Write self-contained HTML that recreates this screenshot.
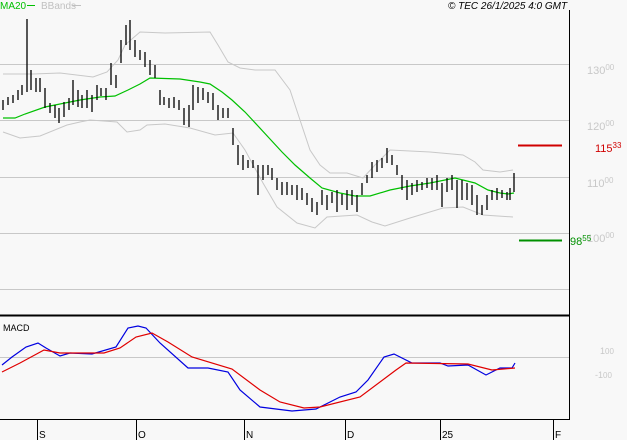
<!DOCTYPE html>
<html><head><meta charset="utf-8"><style>
html,body{margin:0;padding:0;background:#f8f8f8;}
svg{display:block;font-family:"Liberation Sans",sans-serif;}
</style></head><body>
<svg width="627" height="440" viewBox="0 0 627 440" xmlns="http://www.w3.org/2000/svg">
<rect x="0" y="0" width="627" height="440" fill="#f8f8f8"/>
<!-- gridlines -->
<g stroke="#c8c8c8" stroke-width="1">
<line x1="0" y1="64.5" x2="569" y2="64.5"/>
<line x1="0" y1="120.5" x2="569" y2="120.5"/>
<line x1="0" y1="177.5" x2="569" y2="177.5"/>
<line x1="0" y1="233.5" x2="569" y2="233.5"/>
<line x1="0" y1="289.5" x2="569" y2="289.5"/>
<line x1="0" y1="357.5" x2="569" y2="357.5"/>
</g>
<!-- borders -->
<line x1="569.5" y1="10" x2="569.5" y2="420" stroke="#000" stroke-width="1"/>
<line x1="0" y1="315.5" x2="570" y2="315.5" stroke="#000" stroke-width="2"/>
<line x1="0" y1="419.5" x2="570" y2="419.5" stroke="#000" stroke-width="1"/>
<!-- bollinger bands -->
<g fill="none" stroke="#c8c8c8" stroke-width="1">
<polyline points="3,74 33,74 60,73 93,77 107,72 118,60 125,45 140,32 165,33 210,32 218,45 228,62 240,68 255,70 275,70 290,90 300,120 310,150 320,165 330,173 347,173 363,178 375,165 390,150 430,152 463,155 475,162 483,170 500,172 513,170"/>
<polyline points="3,132 20,138 40,136 67,125 80,122 90,120 117,122 127,132 140,130 147,125 165,124 190,128 215,135 233,133 245,150 263,183 277,207 297,223 315,228 327,217 357,215 372,222 385,226 410,218 443,208 463,207 483,215 513,217"/>
</g>
<!-- MA20 -->
<polyline fill="none" stroke="#00c000" stroke-width="1.2" points="3,118 15,118 25,114 45,107 60,104 80,100 100,97 115,96 128,90 140,84 150,78 180,79 200,82 210,84 222,92 232,100 245,112 258,126 270,139 282,152 295,165 310,178 322,188 340,193 355,196 370,196 390,190 410,186 430,183 455,178 475,183 488,190 500,193 508,194 514,193"/>
<!-- price bars -->
<path fill="none" stroke="#000" stroke-width="1.3" d="
M3 100V110 M8 97V105 M13 95V103 M18 90V100 M22 85V95 M27 19V92 M31 70V90 M36 78V92 M40 78V92 M45 88V108
M50 103V113 M55 105V118 M59 108V123 M64 102V117 M69 98V110 M73 80V105 M78 90V107 M82 95V108 M87 90V108 M92 95V112
M97 85V100 M101 88V96 M106 88V100 M111 63V85 M116 75V88 M121 40V63 M126 25V45 M130 20V50 M135 40V57 M140 50V60
M145 52V67 M150 60V75 M155 65V78 M160 90V105 M164 97V105 M169 98V108 M174 97V108 M179 100V110 M184 108V125 M189 105V127
M193 85V110 M198 87V103 M203 88V100 M208 92V103 M213 93V110 M218 105V120 M223 108V118 M228 108V118 M233 128V145 M238 145V165
M243 155V170 M248 160V168 M253 160V168 M258 165V195 M263 165V180 M268 165V175 M272 168V180 M277 178V190 M282 182V195 M287 182V195
M292 185V195 M297 185V200 M302 188V200 M307 193V205 M312 198V212 M317 202V215 M322 190V205 M327 195V210 M332 192V203 M337 190V212
M342 194V205 M347 190V210 M352 190V205 M357 195V212 M362 183V195 M367 175V183 M372 162V178 M377 160V172 M382 158V168 M387 148V163
M392 155V165 M397 165V175 M402 175V190 M407 180V200 M412 183V195 M417 180V192 M422 182V190 M427 178V188 M432 178V190 M437 175V190
M442 183V207 M447 178V192 M452 175V190 M457 180V208 M462 180V200 M467 183V200 M472 185V205 M477 195V215 M482 205V215 M487 195V210
M492 190V200 M497 188V200 M502 190V198 M507 192V200 M510 188V200 M514 173V192"/>
<!-- target lines -->
<line x1="518" y1="145.5" x2="562" y2="145.5" stroke="#d00000" stroke-width="2"/>
<line x1="519" y1="240.5" x2="562" y2="240.5" stroke="#009000" stroke-width="2"/>
<!-- MACD -->
<polyline fill="none" stroke="#0000e0" stroke-width="1.2" points="2,365 12,357 26,347 38,343 46,348 60,356 70,353 92,354 116,347 128,328 138,326 146,328 160,343 188,368 208,368 228,372 240,390 260,407 292,411 316,409 340,397 356,392 368,380 384,357 394,354 412,363 440,363 448,366 468,365 486,375 500,368 512,368 515,363"/>
<polyline fill="none" stroke="#e00000" stroke-width="1.2" points="2,372 20,363 44,350 60,353 104,353 120,348 136,337 152,333 168,342 192,357 232,369 260,390 280,402 304,408 320,407 360,397 396,370 406,363 468,364 492,370 515,368"/>
<!-- legend -->
<text x="0" y="9" font-size="10" fill="#00c000">MA20</text>
<line x1="27" y1="5.5" x2="35" y2="5.5" stroke="#00c000" stroke-width="1"/>
<text x="41" y="9" font-size="10" fill="#c0c0c0">BBands</text>
<line x1="72" y1="5.5" x2="81" y2="5.5" stroke="#c0c0c0" stroke-width="1"/>
<text x="448" y="9" font-size="10" font-style="italic" fill="#000">© TEC 26/1/2025 4:0 GMT</text>
<text x="3" y="331" font-size="9" fill="#000">MACD</text>
<!-- right labels -->
<g font-size="11" fill="#c8c8c8">
<text x="587" y="74">130<tspan font-size="8" dy="-4">00</tspan></text>
<text x="587" y="130">120<tspan font-size="8" dy="-4">00</tspan></text>
<text x="587" y="187">110<tspan font-size="8" dy="-4">00</tspan></text>
<text x="587" y="242">100<tspan font-size="8" dy="-4">00</tspan></text>
<text x="600" y="354" font-size="9">1<tspan font-size="8">00</tspan></text>
<text x="595" y="378" font-size="9">-1<tspan font-size="8">00</tspan></text>
</g>
<text x="595" y="152" font-size="11" fill="#d00000">115<tspan font-size="8" dy="-4">33</tspan></text>
<text x="570" y="245" font-size="11" fill="#009000">98<tspan font-size="8" dy="-4">55</tspan></text>
<!-- x axis -->
<g stroke="#000" stroke-width="1">
<line x1="37.5" y1="420" x2="37.5" y2="440"/>
<line x1="136.5" y1="420" x2="136.5" y2="440"/>
<line x1="244.5" y1="420" x2="244.5" y2="440"/>
<line x1="345.5" y1="420" x2="345.5" y2="440"/>
<line x1="440.5" y1="420" x2="440.5" y2="440"/>
<line x1="553.5" y1="420" x2="553.5" y2="440"/>
</g>
<g font-size="10" fill="#000">
<text x="39" y="438">S</text>
<text x="138" y="438">O</text>
<text x="246" y="438">N</text>
<text x="347" y="438">D</text>
<text x="442" y="438">25</text>
<text x="555" y="438">F</text>
</g>
</svg>
</body></html>
